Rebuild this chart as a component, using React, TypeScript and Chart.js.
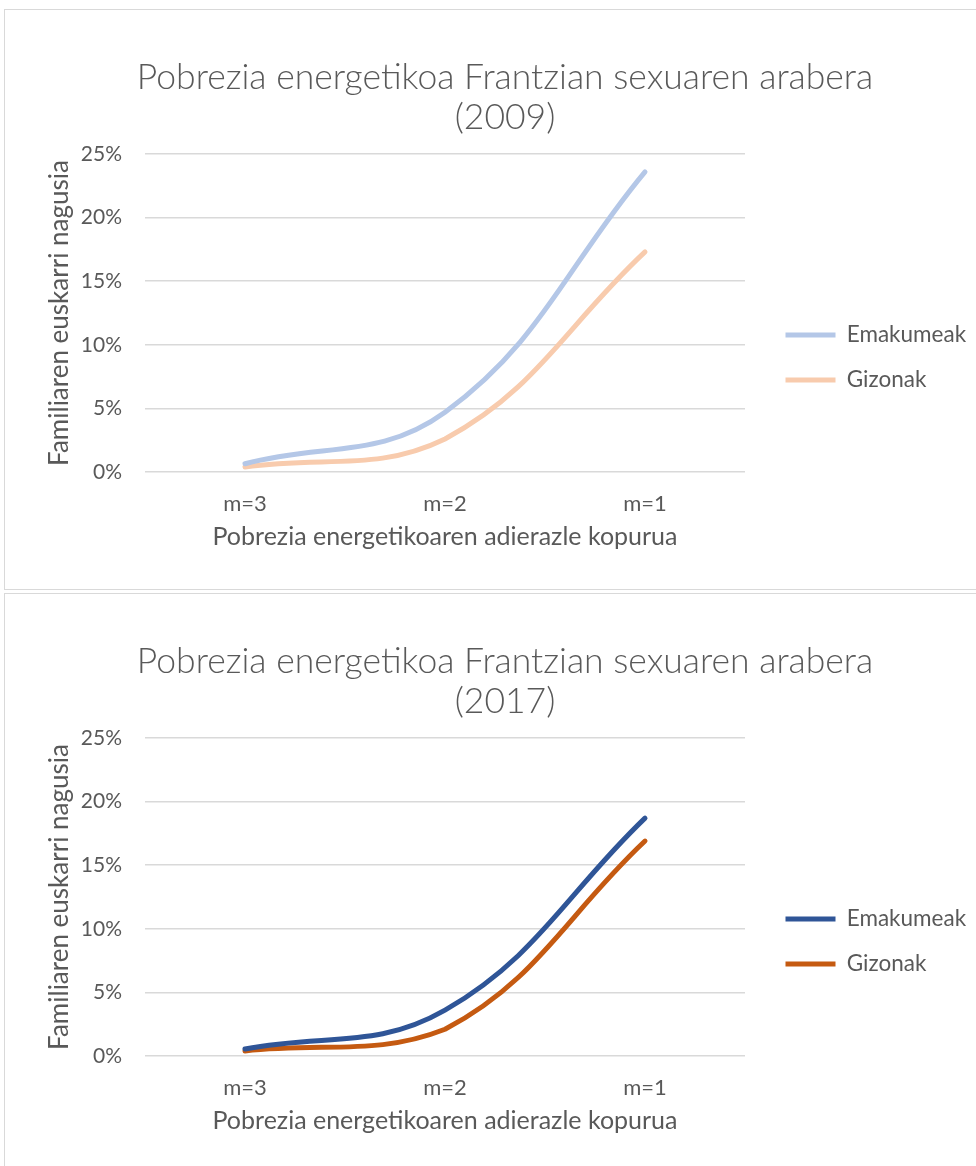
import React, { useEffect, useRef } from 'react';
import { Chart, registerables } from 'chart.js';

Chart.register(...registerables);

// ---------- data ----------
const categories = ['m=3', 'm=2', 'm=1'];
const seriesNames = ['Emakumeak', 'Gizonak'];
const emakumeak2009 = [0.65, 4.7, 23.6];
const gizonak2009 = [0.4, 2.6, 17.3];
const emakumeak2017 = [0.55, 3.6, 18.7];
const gizonak2017 = [0.4, 2.1, 16.9];
const yTickValues = [0, 5, 10, 15, 20, 25];
const title2009 = ['Pobrezia energetikoa Frantzian sexuaren arabera', '(2009)'];
const title2017 = ['Pobrezia energetikoa Frantzian sexuaren arabera', '(2017)'];
const xAxisTitle = 'Pobrezia energetikoaren adierazle kopurua';
const yAxisTitle = 'Familiaren euskarri nagusia';
const colors2009 = ['#B4C7E7', '#F8CBAD'];
const colors2017 = ['#2F5597', '#C55A11'];

// ---------- style ----------
const FONT = 'Lato';
const TEXT = '#595959';
const GRID = '#D9D9D9';
const W = 971;
const H = 578;
const TITLE_FS = 35.5;
const TICK_FS_X = 22;
const TICK_FS_Y = 21;
const XTITLE_FS = 25;
const YTITLE_FS = 26;
const LEGEND_FS = 22.5;
const LEGEND_PAD = 45 - 22.5;
const LEGEND_LINE = 50;
const SPACER = 18;

type Props = { top: number; height: number; titleLines: string[]; series: number[][]; colors: string[] };

function LineChartBox({ top, height, titleLines, series, colors }: Props) {
  const ref = useRef<HTMLCanvasElement>(null);

  useEffect(() => {
    const canvas = ref.current!;
    const meas = document.createElement('canvas').getContext('2d')!;
    meas.font = `normal ${LEGEND_FS}px ${FONT}`;
    const textW = Math.max(...seriesNames.map((n) => meas.measureText(n).width));
    const legendMax = 231 - SPACER;
    const legendW = Math.min(legendMax, LEGEND_PAD + LEGEND_LINE + LEGEND_FS / 2 + textW + 10);
    const padR = legendMax - legendW;
    const padL = 29 + padR;

    const chart = new Chart(canvas, {
      type: 'line',
      data: {
        labels: categories,
        datasets: seriesNames.map((name, i) => ({
          label: name,
          data: series[i],
          borderColor: colors[i],
          backgroundColor: colors[i],
          borderWidth: 5,
          borderCapStyle: 'round',
          borderJoinStyle: 'round',
          pointRadius: 0,
          pointHoverRadius: 0,
          tension: 0.4,
          fill: false,
        })),
      },
      options: {
        responsive: false,
        animation: false,
        events: [],
        layout: { padding: { left: padL, right: padR, top: 0, bottom: 0 } },
        plugins: {
          tooltip: { enabled: false },
          title: {
            display: true,
            text: titleLines,
            color: TEXT,
            font: { family: FONT, size: TITLE_FS, weight: '300', lineHeight: 40 / TITLE_FS },
            padding: { top: 48, bottom: 16 },
          },
          legend: {
            display: true,
            position: 'right',
            align: 'center',
            maxWidth: legendMax,
            title: { display: true, text: '', font: { size: 10, lineHeight: 1.2 }, padding: { top: 105, bottom: 0 } },
            labels: {
              color: TEXT,
              font: { family: FONT, size: LEGEND_FS },
              padding: LEGEND_PAD,
              usePointStyle: true,
              pointStyle: 'line',
              pointStyleWidth: LEGEND_LINE,
            },
          },
        },
        scales: {
          x: {
            type: 'category',
            offset: true,
            grid: { display: false, drawTicks: false },
            border: { display: false },
            ticks: { color: TEXT, font: { family: FONT, size: TICK_FS_X, lineHeight: 1.2 }, padding: 32 - TICK_FS_X * 0.6 },
            title: {
              display: true,
              text: xAxisTitle,
              color: TEXT,
              font: { family: FONT, size: XTITLE_FS, lineHeight: 1.2 },
              padding: { top: 0, bottom: 51 - XTITLE_FS * 0.6 },
            },
            afterFit: (s: any) => {
              s.height = 116;
            },
          },
          y: {
            type: 'linear',
            min: 0,
            max: 25,
            afterBuildTicks: (s: any) => {
              s.ticks = yTickValues.map((v) => ({ value: v }));
            },
            grid: { color: GRID, lineWidth: 1.5, drawTicks: false },
            border: { display: false },
            ticks: {
              color: TEXT,
              font: { family: FONT, size: TICK_FS_Y, lineHeight: 1.2 },
              padding: 23,
              callback: (v: any) => `${v}%`,
            },
            title: {
              display: true,
              text: yAxisTitle,
              color: TEXT,
              font: { family: FONT, size: YTITLE_FS, lineHeight: 1.2 },
              padding: { top: 55 - YTITLE_FS * 0.6 - padL, bottom: 0 },
            },
            afterFit: (s: any) => {
              s.width = 140 - padL;
            },
          },
          spacer: {
            type: 'linear',
            position: 'right',
            display: true,
            grid: { display: false, drawTicks: false },
            border: { display: false },
            ticks: { display: false },
            afterFit: (s: any) => {
              s.width = SPACER;
            },
          },
        },
      } as any,
    });
    return () => chart.destroy();
  }, []);

  return (
    <div
      style={{
        position: 'absolute',
        left: 4,
        top,
        width: 1000,
        height,
        border: '1px solid #D9D9D9',
        boxSizing: 'border-box',
        background: '#fff',
      }}
    >
      <canvas
        ref={ref}
        width={W}
        height={H}
        style={{ position: 'absolute', left: 0, top: 0, width: W, height: H, display: 'block' }}
      />
    </div>
  );
}

export default function App() {
  return (
    <div
      style={{
        position: 'absolute',
        left: 0,
        top: 0,
        width: 976,
        height: 1166,
        overflow: 'hidden',
        background: '#fff',
      }}
    >
      <LineChartBox top={9} height={581} titleLines={title2009} series={[emakumeak2009, gizonak2009]} colors={colors2009} />
      <LineChartBox top={593} height={700} titleLines={title2017} series={[emakumeak2017, gizonak2017]} colors={colors2017} />
    </div>
  );
}
